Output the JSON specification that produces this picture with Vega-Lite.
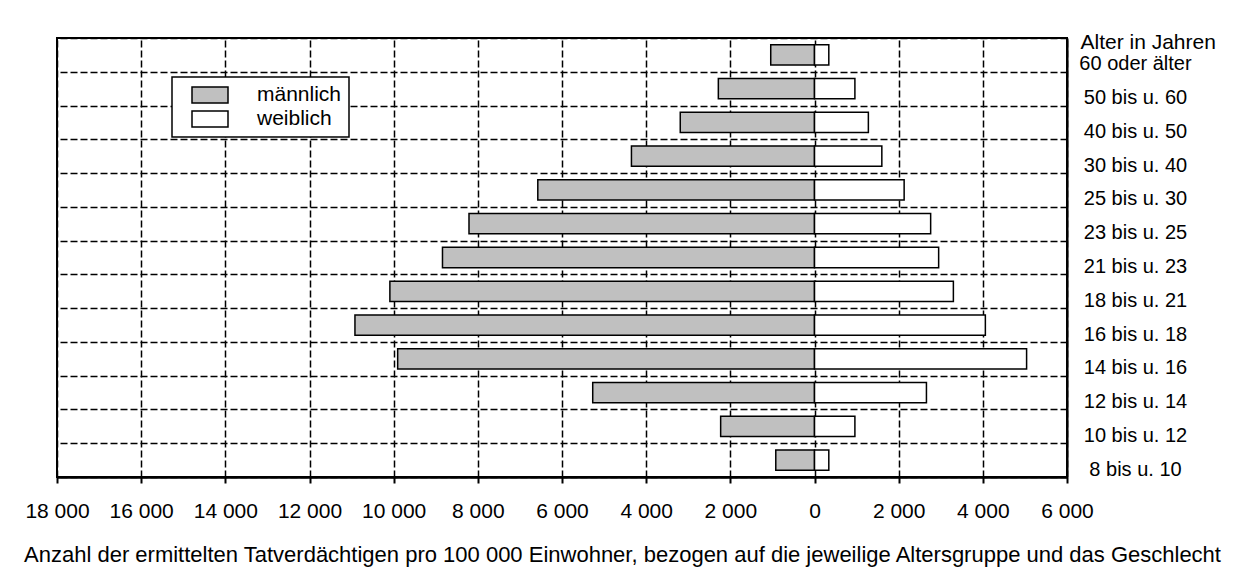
{
  "$schema": "https://vega.github.io/schema/vega-lite/v6.json",
  "autosize": {"type": "none"},
  "padding": {"left": 57, "top": 38, "right": 173, "bottom": 106},
  "width": 1010,
  "height": 439,
  "background": "white",
  "config": {
    "font": "Liberation Sans",
    "view": {"stroke": "black", "strokeWidth": 2},
    "axis": {"labelFont": "Liberation Sans", "titleFont": "Liberation Sans", "labelColor": "black", "titleColor": "black"},
    "legend": {"strokeWidth": 1.5}
  },
  "data": {
    "values": [
      {"alter": "60 oder älter", "geschlecht": "männlich", "wert": -1040},
      {"alter": "60 oder älter", "geschlecht": "weiblich", "wert": 340},
      {"alter": "50 bis u. 60", "geschlecht": "männlich", "wert": -2285},
      {"alter": "50 bis u. 60", "geschlecht": "weiblich", "wert": 960},
      {"alter": "40 bis u. 50", "geschlecht": "männlich", "wert": -3190},
      {"alter": "40 bis u. 50", "geschlecht": "weiblich", "wert": 1280},
      {"alter": "30 bis u. 40", "geschlecht": "männlich", "wert": -4350},
      {"alter": "30 bis u. 40", "geschlecht": "weiblich", "wert": 1600},
      {"alter": "25 bis u. 30", "geschlecht": "männlich", "wert": -6575},
      {"alter": "25 bis u. 30", "geschlecht": "weiblich", "wert": 2130},
      {"alter": "23 bis u. 25", "geschlecht": "männlich", "wert": -8210},
      {"alter": "23 bis u. 25", "geschlecht": "weiblich", "wert": 2760},
      {"alter": "21 bis u. 23", "geschlecht": "männlich", "wert": -8840},
      {"alter": "21 bis u. 23", "geschlecht": "weiblich", "wert": 2950},
      {"alter": "18 bis u. 21", "geschlecht": "männlich", "wert": -10090},
      {"alter": "18 bis u. 21", "geschlecht": "weiblich", "wert": 3300},
      {"alter": "16 bis u. 18", "geschlecht": "männlich", "wert": -10920},
      {"alter": "16 bis u. 18", "geschlecht": "weiblich", "wert": 4060},
      {"alter": "14 bis u. 16", "geschlecht": "männlich", "wert": -9905},
      {"alter": "14 bis u. 16", "geschlecht": "weiblich", "wert": 5040},
      {"alter": "12 bis u. 14", "geschlecht": "männlich", "wert": -5270},
      {"alter": "12 bis u. 14", "geschlecht": "weiblich", "wert": 2660},
      {"alter": "10 bis u. 12", "geschlecht": "männlich", "wert": -2230},
      {"alter": "10 bis u. 12", "geschlecht": "weiblich", "wert": 960},
      {"alter": "8 bis u. 10", "geschlecht": "männlich", "wert": -920},
      {"alter": "8 bis u. 10", "geschlecht": "weiblich", "wert": 340}
    ]
  },
  "mark": {"type": "bar", "stroke": "black", "strokeWidth": 1.5, "height": {"band": 0.6}},
  "encoding": {
    "y": {
      "field": "alter",
      "type": "nominal",
      "sort": ["60 oder älter", "50 bis u. 60", "40 bis u. 50", "30 bis u. 40", "25 bis u. 30", "23 bis u. 25", "21 bis u. 23", "18 bis u. 21", "16 bis u. 18", "14 bis u. 16", "12 bis u. 14", "10 bis u. 12", "8 bis u. 10"],
      "scale": {"paddingInner": 0, "paddingOuter": 0},
      "axis": {
        "orient": "right",
        "title": "Alter in Jahren",
        "titleAngle": 0,
        "titleAlign": "left",
        "titleBaseline": "middle",
        "titleX": 13,
        "titleY": 4,
        "titleFontSize": 21,
        "titleFontWeight": "normal",
        "labelFontSize": 20,
        "labelAlign": "center",
        "labelPadding": 68,
        "labelOffset": 9,
        "labelOverlap": false,
        "ticks": false,
        "tickSize": 0,
        "domain": true,
        "domainColor": "black",
        "domainWidth": 2,
        "grid": true,
        "tickBand": "extent",
        "gridColor": "black",
        "gridWidth": 1.5,
        "gridDash": [7, 3],
        "gridOpacity": 1
      }
    },
    "x": {
      "field": "wert",
      "type": "quantitative",
      "scale": {"domain": [-18000, 6000], "nice": false},
      "axis": {
        "orient": "bottom",
        "values": [-18000, -16000, -14000, -12000, -10000, -8000, -6000, -4000, -2000, 0, 2000, 4000, 6000],
        "labelExpr": "replace(format(abs(datum.value), ','), ',', ' ')",
        "labelFontSize": 21,
        "labelPadding": 17,
        "labelOverlap": false,
        "labelBound": false,
        "labelFlush": false,
        "tickSize": 6,
        "tickColor": "black",
        "tickWidth": 2,
        "domainColor": "black",
        "domainWidth": 2.5,
        "grid": true,
        "gridColor": "black",
        "gridWidth": 1.5,
        "gridDash": [7, 3],
        "gridOpacity": 1,
        "title": "Anzahl der ermittelten Tatverdächtigen pro 100 000 Einwohner, bezogen auf die jeweilige Altersgruppe und das Geschlecht",
        "titleFontSize": 22,
        "titleFontWeight": "normal",
        "titleX": 565,
        "titleAlign": "center",
        "titlePadding": 23
      }
    },
    "color": {
      "field": "geschlecht",
      "type": "nominal",
      "scale": {"domain": ["männlich", "weiblich"], "range": ["#c0c0c0", "#ffffff"]},
      "legend": {
        "title": null,
        "orient": "none",
        "legendX": 115,
        "legendY": 39,
        "fillColor": "white",
        "strokeColor": "black",
        "padding": 7,
        "symbolOffset": 20,
        "symbolType": "M-1.8,-0.8H1.8V0.8H-1.8Z",
        "symbolSize": 400,
        "symbolStrokeColor": "black",
        "symbolStrokeWidth": 1.5,
        "symbolOpacity": 1,
        "labelFontSize": 21,
        "labelOffset": 36,
        "labelColor": "black",
        "rowPadding": 2
      }
    }
  }
}
